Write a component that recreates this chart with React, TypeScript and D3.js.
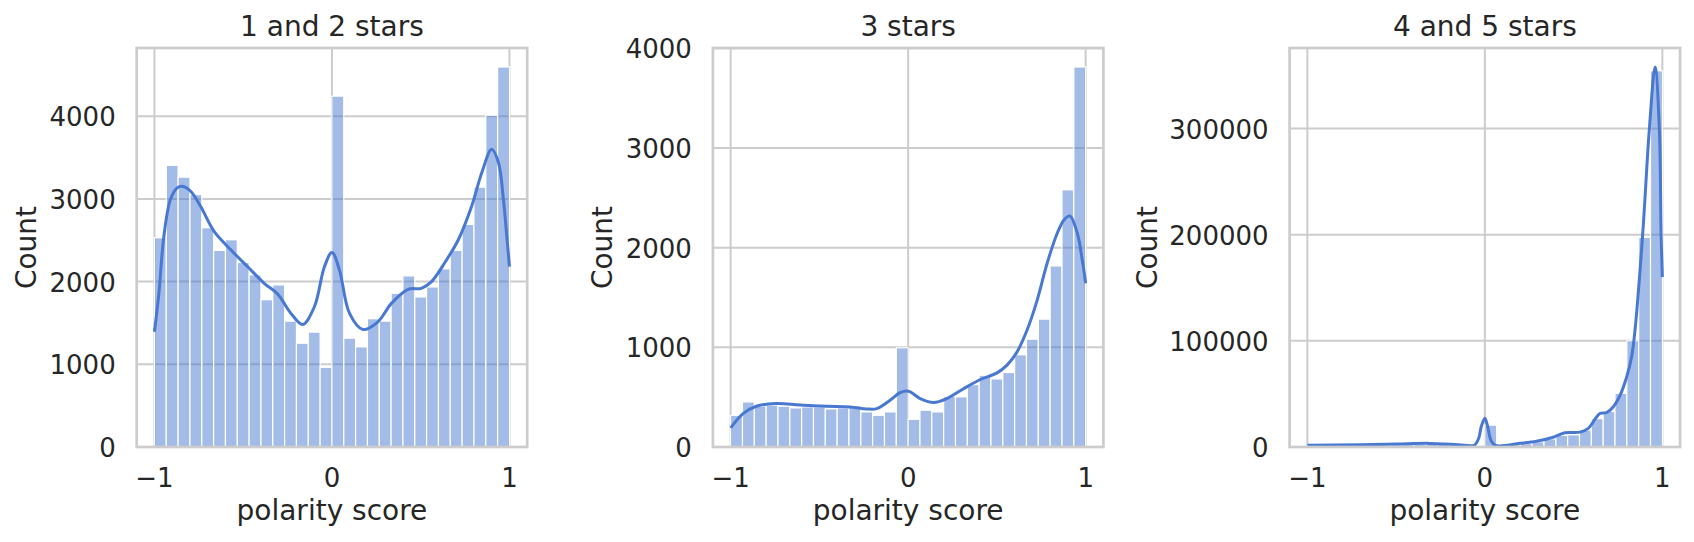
import React from "react";
import * as d3 from "d3";

// ---------- data ----------
const BIN_MIN = -1;
const BIN_MAX = 1;
const titles = ["1 and 2 stars", "3 stars", "4 and 5 stars"];
const xTicks = [-1, 0, 1];
const xTickLabels = ["\u22121", "0", "1"];

const counts12 = [2530, 3405, 3263, 3053, 2652, 2377, 2506, 2231, 2081, 1781, 1960, 1522, 1255, 1389, 964, 4243, 1316, 1211, 1551, 1522, 1858, 2069, 1814, 1935, 2154, 2377, 2692, 3142, 4012, 4595];
const counts3 = [318, 452, 409, 419, 409, 392, 402, 402, 382, 392, 412, 352, 318, 352, 995, 278, 369, 352, 509, 503, 626, 720, 683, 747, 925, 1082, 1283, 1816, 2580, 3812];
const counts45 = [1300, 1500, 1700, 1900, 2100, 2200, 2400, 2500, 2600, 2600, 2800, 2600, 2100, 1500, 800, 20600, 1900, 2200, 3200, 4800, 7600, 11100, 11500, 15900, 26700, 33400, 50600, 100000, 197500, 354400];

const kdeX12 = [-1.0, -0.975, -0.947, -0.91, -0.872, -0.844, -0.796, -0.74, -0.664, -0.57, -0.476, -0.382, -0.306, -0.231, -0.165, -0.099, -0.042, 0.0, 0.042, 0.099, 0.174, 0.259, 0.335, 0.429, 0.504, 0.561, 0.636, 0.712, 0.787, 0.844, 0.9, 0.938, 0.966, 0.985, 1.0];
const kdeY12 = [1393, 1858, 2547, 2992, 3134, 3154, 3093, 2911, 2607, 2385, 2182, 1980, 1850, 1615, 1482, 1696, 2182, 2352, 2142, 1615, 1421, 1514, 1737, 1907, 1919, 2000, 2231, 2506, 2911, 3316, 3599, 3440, 2992, 2547, 2182];

const kdeX3 = [-1, -0.93, -0.855, -0.742, -0.61, -0.46, -0.328, -0.234, -0.177, -0.102, -0.045, 0.002, 0.068, 0.143, 0.218, 0.313, 0.407, 0.501, 0.557, 0.614, 0.67, 0.727, 0.783, 0.84, 0.878, 0.911, 0.953, 0.981, 1.0];
const kdeY3 = [191, 335, 409, 436, 422, 409, 402, 382, 385, 469, 546, 560, 486, 446, 486, 586, 677, 744, 821, 955, 1173, 1474, 1843, 2144, 2278, 2318, 2144, 1876, 1642];

const kdeX45 = [-1.0, -0.7, -0.5, -0.31, -0.15, -0.085, -0.06, -0.035, -0.019, 0.0, 0.015, 0.035, 0.06, 0.197, 0.291, 0.385, 0.451, 0.536, 0.583, 0.62, 0.648, 0.686, 0.724, 0.761, 0.799, 0.827, 0.846, 0.889, 0.927, 0.959, 0.983, 0.993, 1.0];
const kdeY45 = [1600, 2200, 2800, 3400, 2200, 1200, 1500, 8000, 20000, 27000, 20000, 6000, 1500, 3500, 5400, 9200, 13400, 14000, 17500, 26000, 31500, 32500, 38000, 48400, 66000, 85000, 110000, 200000, 300000, 358000, 300000, 200000, 160000];

const yTicks12 = [0, 1000, 2000, 3000, 4000];
const yTicks3 = [0, 1000, 2000, 3000, 4000];
const yTicks45 = [0, 100000, 200000, 300000];

// ---------- style ----------
const FONT = "DejaVu Sans, sans-serif";
const TEXT = "#262626";
const GRID = "#cccccc";
const BLUE = "#4878d0";
const TOP = 48;
const BOTTOM = 447;
const WIDTH = 390.5;

function Panel({ left, title, counts, kdeX, kdeY, yTicks, ylabelOffset }) {
  const x = d3.scaleLinear().domain([-1.1, 1.1]).range([left, left + WIDTH]);
  const maxV = Math.max(d3.max(counts), d3.max(kdeY));
  const y = d3.scaleLinear().domain([0, maxV * 1.05]).range([BOTTOM, TOP]);
  const n = counts.length;
  const edges = d3.range(n + 1).map((i) => BIN_MIN + (i * (BIN_MAX - BIN_MIN)) / n);
  const pts = kdeX.map((v, i) => [v, kdeY[i]]);
  const line = d3
    .line()
    .x((d) => x(d[0]))
    .y((d) => y(d[1]))
    .curve(d3.curveCatmullRom.alpha(0.5));
  const cx = left + WIDTH / 2;
  return (
    <g>
      {yTicks.map((t) => (
        <line key={"gy" + t} x1={left} x2={left + WIDTH} y1={y(t)} y2={y(t)} stroke={GRID} strokeWidth={2} />
      ))}
      {xTicks.map((t) => (
        <line key={"gx" + t} x1={x(t)} x2={x(t)} y1={TOP} y2={BOTTOM} stroke={GRID} strokeWidth={2} />
      ))}
      {counts.map((c, i) => (
        <rect
          key={"b" + i}
          x={x(edges[i])}
          y={y(c)}
          width={x(edges[i + 1]) - x(edges[i])}
          height={y(0) - y(c)}
          fill={BLUE}
          fillOpacity={0.5}
          stroke="#ffffff"
          strokeWidth={1.2}
        />
      ))}
      <path d={line(pts)} fill="none" stroke={BLUE} strokeWidth={3} strokeLinejoin="round" />
      <rect x={left} y={TOP} width={WIDTH} height={BOTTOM - TOP} fill="none" stroke={GRID} strokeWidth={2.7} />
      {yTicks.map((t) => (
        <text key={"ty" + t} x={left - 21} y={y(t) + 10} textAnchor="end" fontSize={26} fill={TEXT} fontFamily={FONT}>
          {String(t)}
        </text>
      ))}
      {xTicks.map((t, i) => (
        <text key={"tx" + t} x={x(t)} y={BOTTOM + 39.5} textAnchor="middle" fontSize={26} fill={TEXT} fontFamily={FONT}>
          {xTickLabels[i]}
        </text>
      ))}
      <text x={cx} y={36} textAnchor="middle" fontSize={28} fill={TEXT} fontFamily={FONT}>
        {title}
      </text>
      <text x={cx} y={520} textAnchor="middle" fontSize={28} fill={TEXT} fontFamily={FONT}>
        polarity score
      </text>
      <text
        transform={`translate(${left - ylabelOffset},${(TOP + BOTTOM) / 2}) rotate(-90)`}
        textAnchor="middle"
        fontSize={28}
        fill={TEXT}
        fontFamily={FONT}
      >
        Count
      </text>
    </g>
  );
}

export default function App() {
  return (
    <svg width={1694} height={542} style={{ position: "absolute", left: 0, top: 0, background: "#ffffff" }}>
      <rect x={0} y={0} width={1694} height={542} fill="#ffffff" />
      <Panel left={136.7} title={titles[0]} counts={counts12} kdeX={kdeX12} kdeY={kdeY12} yTicks={yTicks12} ylabelOffset={101} />
      <Panel left={712.9} title={titles[1]} counts={counts3} kdeX={kdeX3} kdeY={kdeY3} yTicks={yTicks3} ylabelOffset={101} />
      <Panel left={1289.6} title={titles[2]} counts={counts45} kdeX={kdeX45} kdeY={kdeY45} yTicks={yTicks45} ylabelOffset={133} />
    </svg>
  );
}
